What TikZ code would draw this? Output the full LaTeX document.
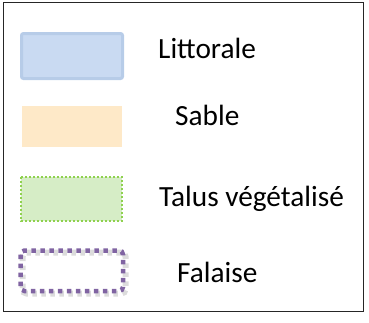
\documentclass[tikz,border=0pt]{standalone}
\usepackage{fontspec}
\setmainfont{Carlito}
\definecolor{blfill}{HTML}{C9DAF2}
\definecolor{bledge}{HTML}{B7CCE8}
\definecolor{sdfill}{HTML}{FEE9C8}
\definecolor{grfill}{HTML}{D6EDC6}
\definecolor{gredge}{HTML}{8FD14F}
\definecolor{puedge}{HTML}{8064A2}
\tikzset{
  lbl/.style={anchor=base west, inner sep=0pt, font=\fontsize{29.3}{31}\selectfont},
  frame/.style={draw=black!85, line width=1pt},
  fdots/.style={line width=4.5pt, rounded corners=4pt, dash pattern=on 4.5pt off 4.5pt},
}
\begin{document}
\begin{tikzpicture}[x=1pt,y=-1pt]
\useasboundingbox (0,0) rectangle (369,322);
\draw[frame] (3,2) rectangle (363,311);
% Littorale
\draw[fill=blfill, draw=bledge, line width=3pt, rounded corners=2pt] (21.5,33.5) rectangle (122.5,78.5);
\node[lbl] (t1) at (158,58) {Littorale};
% Sable
\fill[sdfill] (22,106) rectangle (122,147);
\node[lbl] (t2) at (175,125) {Sable};
% Talus
\draw[fill=grfill, draw=gredge, line width=2pt, dash pattern=on 2pt off 2pt] (21,177) rectangle (122,221);
\node[lbl] (t3) at (159,206) {Talus végétalisé};
% Falaise
\draw[black!30, fdots, opacity=0.45, line width=6pt] (22.5,252.5) rectangle (125.5,293.5);
\draw[puedge, fdots] (20.5,250.5) rectangle (123,291);
\node[lbl] (t4) at (177,282) {Falaise};
\end{tikzpicture}
\end{document}
